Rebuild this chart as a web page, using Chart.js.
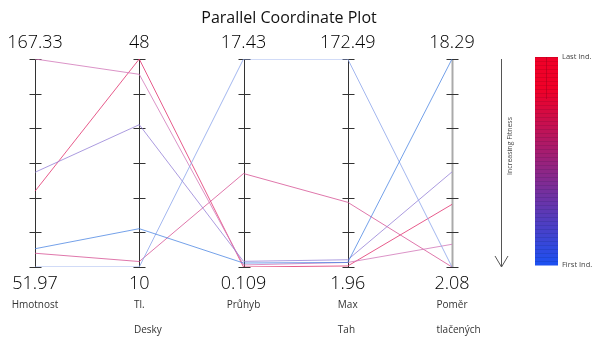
<!DOCTYPE html>
<html><head><meta charset="utf-8">
<script src="https://cdn.jsdelivr.net/npm/chart.js@4/dist/chart.umd.min.js"></script>
<style>html,body{margin:0;padding:0;background:#fff}#c{display:block}</style>
</head><body>
<canvas id="c" width="595" height="339"></canvas>
<script>
const axisNames = ["Hmotnost", "Tl.", "Průhyb", "Max", "Poměr"];
const axisNames2 = ["", "Desky", "", "Tah", "tlačených"];
const axisMin = [51.97, 10, 0.109, 1.96, 2.08];
const axisMax = [167.33, 48, 17.43, 172.49, 18.29];
const minLabels = ["51.97", "10", "0.109", "1.96", "2.08"];
const maxLabels = ["167.33", "48", "17.43", "172.49", "18.29"];
// individuals, first (blue) to last (red)
const ind1 = [62.1, 17, 0.44, 5.7, 18.29];
const ind2 = [51.97, 10, 17.43, 172.49, 2.08];
const ind3 = [104.5, 36, 0.58, 7.9, 9.49];
const ind4 = [167.33, 45.2, 0.28, 5.7, 3.85];
const ind5 = [59.6, 11, 7.89, 55.0, 2.08];
const ind6 = [94.0, 48, 0.109, 2.8, 6.96];
const individuals = [ind1, ind2, ind3, ind4, ind5, ind6];
const lineColors = ["rgba(70,130,225,0.75)", "rgba(140,165,235,0.8)", "rgba(150,130,215,0.8)",
                    "rgba(210,120,185,0.8)", "rgba(215,85,150,0.8)", "rgba(225,50,110,0.8)"];

const norm = v => v.map((x, i) => (x - axisMin[i]) / (axisMax[i] - axisMin[i]));

const FONT = "'Open Sans', 'Noto Sans', sans-serif";

const pcPlugin = {
  id: 'pc',
  beforeDatasetsDraw(chart) {
    const ctx = chart.ctx, xs = chart.scales.x, ys = chart.scales.y;
    ctx.save();
    for (let i = 0; i < axisNames.length; i++) {
      const x = Math.round(xs.getPixelForValue(i)) + 0.5;
      const last = i === axisNames.length - 1;
      ctx.strokeStyle = last ? '#aaaaaa' : '#333333';
      ctx.lineWidth = last ? 2 : 1;
      ctx.beginPath();
      ctx.moveTo(x, ys.getPixelForValue(1));
      ctx.lineTo(x, ys.getPixelForValue(0));
      ctx.stroke();
      ctx.strokeStyle = '#333333';
      ctx.lineWidth = 1;
      for (let k = 0; k <= 6; k++) {
        const y = Math.round(ys.getPixelForValue(k / 6)) + 0.5;
        ctx.beginPath();
        ctx.moveTo(x - 6, y);
        ctx.lineTo(x + 6, y);
        ctx.stroke();
      }
    }
    ctx.restore();
  },
  afterDraw(chart) {
    const ctx = chart.ctx, xs = chart.scales.x, ys = chart.scales.y;
    ctx.save();
    ctx.fillStyle = '#111';
    ctx.textBaseline = 'middle';
    ctx.textAlign = 'center';
    ctx.font = "16px " + FONT;
    ctx.fillText("Parallel Coordinate Plot", 289, 18);
    for (let i = 0; i < axisNames.length; i++) {
      const x = xs.getPixelForValue(i);
      ctx.textAlign = 'center';
      ctx.fillStyle = '#000';
      ctx.font = "300 18px " + FONT;
      ctx.fillText(maxLabels[i], x, 43);
      ctx.fillText(minLabels[i], x, 284);
      ctx.font = "10px " + FONT;
      ctx.textAlign = 'left';
      const w = ctx.measureText(axisNames[i]).width;
      ctx.fillStyle = '#333';
      ctx.fillText(axisNames[i], x - w / 2, 305);
      if (axisNames2[i]) ctx.fillText(axisNames2[i], x - w / 2, 330);
    }
    // fitness arrow
    ctx.strokeStyle = '#555';
    ctx.lineWidth = 1;
    ctx.beginPath();
    ctx.moveTo(501.5, 59); ctx.lineTo(501.5, 267);
    ctx.moveTo(495, 256); ctx.lineTo(501.5, 267); ctx.lineTo(508, 256);
    ctx.stroke();
    ctx.save();
    ctx.translate(510, 146);
    ctx.rotate(-Math.PI / 2);
    ctx.font = "7px " + FONT;
    ctx.fillStyle = '#444';
    ctx.textAlign = 'center';
    ctx.fillText("Increasing Fitness", 0, 0);
    ctx.restore();
    // color bar
    const bx = 535, bw = 23, top = 57, bot = 265, n = 52;
    const h = (bot - top) / n;
    for (let j = 0; j < n; j++) {
      const t = j / (n - 1); // 0 top (red) -> 1 bottom (blue)
      const tt = Math.max(0, (t - 0.15) / 0.85);
      const r = Math.round(240 - 210 * tt), g = Math.round(0 + 80 * tt), b = Math.round(40 + 200 * tt);
      ctx.fillStyle = `rgb(${r},${g},${b})`;
      ctx.fillRect(bx, top + j * h, bw, h + 0.5);
      ctx.fillStyle = `rgba(${Math.round(r*0.7)},${Math.round(g*0.7)},${Math.round(b*0.7)},0.5)`;
      ctx.fillRect(bx, top + j * h, bw, 0.6);
    }
    ctx.strokeStyle = 'rgba(160,0,30,0.5)';
    ctx.beginPath(); ctx.moveTo(bx + bw / 2, top); ctx.lineTo(bx + bw / 2, top + 42); ctx.stroke();
    ctx.font = "7.5px " + FONT;
    ctx.fillStyle = '#444';
    ctx.textAlign = 'left';
    ctx.fillText("Last Ind.", 562, 57);
    ctx.fillText("First Ind.", 562, 265);
    ctx.restore();
  }
};

new Chart(document.getElementById('c'), {
  type: 'line',
  data: {
    labels: axisNames,
    datasets: individuals.map((d, i) => ({
      data: norm(d),
      borderColor: lineColors[i],
      borderWidth: 1,
      pointRadius: 0,
      tension: 0,
      fill: false
    }))
  },
  options: {
    responsive: false,
    animation: false,
    layout: { padding: { left: 35, right: 143, top: 59, bottom: 72 } },
    plugins: { legend: { display: false }, tooltip: { enabled: false }, title: { display: false } },
    scales: {
      x: { type: 'category', display: false, offset: false },
      y: { min: 0, max: 1, display: false }
    }
  },
  plugins: [pcPlugin]
});
</script>
</body></html>
